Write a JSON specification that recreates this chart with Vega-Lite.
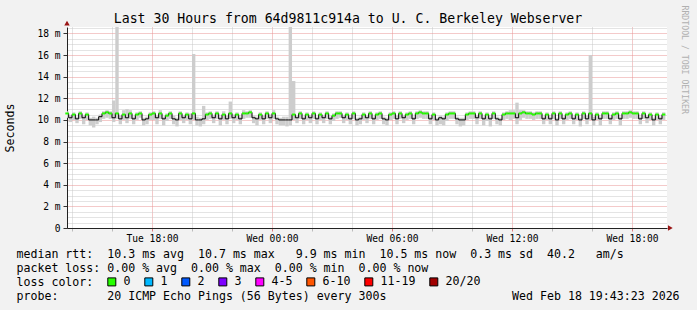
{
  "$schema": "https://vega.github.io/schema/vega-lite/v6.json",
  "width": 600,
  "height": 201,
  "autosize": {"type": "none"},
  "padding": {"left": 67, "top": 27, "right": 30, "bottom": 82},
  "background": "#f2f2f2",
  "title": {"text": "Last 30 Hours from 64d9811c914a to U. C. Berkeley Webserver", "font": "DejaVu Sans Mono", "fontSize": 13.2, "fontWeight": "normal", "color": "#000000", "anchor": "middle", "frame": "group", "dx": -19, "dy": 34, "offset": 3, "baseline": "alphabetic"},
  "data": {"values": [
    {"t":"2026-02-17T13:45Z","m":10.6,"lo":10.2,"hi":10.8,"loss":"0"},
    {"t":"2026-02-17T13:55Z","m":10.2,"lo":9.8,"hi":10.4,"loss":"0"},
    {"t":"2026-02-17T14:05Z","m":10.5,"lo":10.0,"hi":10.7,"loss":"0"},
    {"t":"2026-02-17T14:15Z","m":10.1,"lo":9.7,"hi":10.3,"loss":"0"},
    {"t":"2026-02-17T14:25Z","m":10.6,"lo":10.1,"hi":10.8,"loss":"0"},
    {"t":"2026-02-17T14:35Z","m":10.2,"lo":9.6,"hi":10.4,"loss":"0"},
    {"t":"2026-02-17T14:45Z","m":10.5,"lo":10.0,"hi":10.7,"loss":"0"},
    {"t":"2026-02-17T14:55Z","m":10.0,"lo":9.5,"hi":10.2,"loss":"0"},
    {"t":"2026-02-17T15:05Z","m":10.0,"lo":9.3,"hi":10.3,"loss":"0"},
    {"t":"2026-02-17T15:15Z","m":10.0,"lo":9.6,"hi":10.2,"loss":"0"},
    {"t":"2026-02-17T15:25Z","m":10.3,"lo":9.8,"hi":10.5,"loss":"0"},
    {"t":"2026-02-17T15:35Z","m":10.6,"lo":10.1,"hi":10.8,"loss":"0"},
    {"t":"2026-02-17T15:45Z","m":10.7,"lo":10.2,"hi":10.9,"loss":"0"},
    {"t":"2026-02-17T15:55Z","m":10.6,"lo":10.1,"hi":10.8,"loss":"0"},
    {"t":"2026-02-17T16:05Z","m":10.2,"lo":9.8,"hi":11.8,"loss":"0"},
    {"t":"2026-02-17T16:15Z","m":10.6,"lo":10.1,"hi":19.5,"loss":"0"},
    {"t":"2026-02-17T16:25Z","m":10.1,"lo":9.6,"hi":10.4,"loss":"0"},
    {"t":"2026-02-17T16:35Z","m":10.5,"lo":10.0,"hi":10.9,"loss":"0"},
    {"t":"2026-02-17T16:45Z","m":10.2,"lo":9.7,"hi":11.0,"loss":"0"},
    {"t":"2026-02-17T16:55Z","m":10.6,"lo":10.1,"hi":10.9,"loss":"0"},
    {"t":"2026-02-17T17:05Z","m":10.1,"lo":9.6,"hi":10.3,"loss":"0"},
    {"t":"2026-02-17T17:15Z","m":10.5,"lo":10.0,"hi":10.7,"loss":"0"},
    {"t":"2026-02-17T17:25Z","m":10.6,"lo":10.2,"hi":10.8,"loss":"0"},
    {"t":"2026-02-17T17:35Z","m":10.0,"lo":9.5,"hi":10.2,"loss":"0"},
    {"t":"2026-02-17T17:45Z","m":10.1,"lo":9.6,"hi":10.3,"loss":"0"},
    {"t":"2026-02-17T17:55Z","m":10.5,"lo":10.0,"hi":10.7,"loss":"0"},
    {"t":"2026-02-17T18:05Z","m":10.6,"lo":10.0,"hi":10.8,"loss":"0"},
    {"t":"2026-02-17T18:15Z","m":10.2,"lo":9.6,"hi":10.4,"loss":"0"},
    {"t":"2026-02-17T18:25Z","m":10.6,"lo":10.1,"hi":10.9,"loss":"0"},
    {"t":"2026-02-17T18:35Z","m":10.1,"lo":9.5,"hi":10.3,"loss":"0"},
    {"t":"2026-02-17T18:45Z","m":10.4,"lo":9.9,"hi":10.6,"loss":"0"},
    {"t":"2026-02-17T18:55Z","m":10.6,"lo":10.1,"hi":10.8,"loss":"0"},
    {"t":"2026-02-17T19:05Z","m":10.1,"lo":9.6,"hi":10.4,"loss":"0"},
    {"t":"2026-02-17T19:15Z","m":10.0,"lo":9.4,"hi":10.2,"loss":"0"},
    {"t":"2026-02-17T19:25Z","m":10.6,"lo":10.0,"hi":10.8,"loss":"0"},
    {"t":"2026-02-17T19:35Z","m":10.2,"lo":9.7,"hi":10.4,"loss":"0"},
    {"t":"2026-02-17T19:45Z","m":10.5,"lo":10.0,"hi":10.7,"loss":"0"},
    {"t":"2026-02-17T19:55Z","m":10.1,"lo":9.6,"hi":10.6,"loss":"0"},
    {"t":"2026-02-17T20:05Z","m":10.6,"lo":10.0,"hi":16.1,"loss":"0"},
    {"t":"2026-02-17T20:15Z","m":10.0,"lo":9.5,"hi":10.3,"loss":"0"},
    {"t":"2026-02-17T20:25Z","m":10.0,"lo":9.4,"hi":10.2,"loss":"0"},
    {"t":"2026-02-17T20:35Z","m":10.1,"lo":9.6,"hi":11.3,"loss":"0"},
    {"t":"2026-02-17T20:45Z","m":10.5,"lo":10.0,"hi":10.7,"loss":"0"},
    {"t":"2026-02-17T20:55Z","m":10.6,"lo":10.1,"hi":10.8,"loss":"0"},
    {"t":"2026-02-17T21:05Z","m":10.2,"lo":9.7,"hi":10.4,"loss":"0"},
    {"t":"2026-02-17T21:15Z","m":10.6,"lo":10.1,"hi":10.8,"loss":"0"},
    {"t":"2026-02-17T21:25Z","m":10.1,"lo":9.5,"hi":10.3,"loss":"0"},
    {"t":"2026-02-17T21:35Z","m":10.5,"lo":10.0,"hi":10.8,"loss":"0"},
    {"t":"2026-02-17T21:45Z","m":10.1,"lo":9.6,"hi":10.4,"loss":"0"},
    {"t":"2026-02-17T21:55Z","m":10.6,"lo":10.1,"hi":11.7,"loss":"0"},
    {"t":"2026-02-17T22:05Z","m":10.2,"lo":9.7,"hi":10.5,"loss":"0"},
    {"t":"2026-02-17T22:15Z","m":10.5,"lo":10.0,"hi":10.7,"loss":"0"},
    {"t":"2026-02-17T22:25Z","m":10.1,"lo":9.6,"hi":10.3,"loss":"0"},
    {"t":"2026-02-17T22:35Z","m":10.6,"lo":10.1,"hi":10.9,"loss":"0"},
    {"t":"2026-02-17T22:45Z","m":10.6,"lo":10.2,"hi":10.8,"loss":"0"},
    {"t":"2026-02-17T22:55Z","m":10.7,"lo":10.2,"hi":10.9,"loss":"0"},
    {"t":"2026-02-17T23:05Z","m":10.2,"lo":9.7,"hi":10.4,"loss":"0"},
    {"t":"2026-02-17T23:15Z","m":10.1,"lo":9.5,"hi":10.3,"loss":"0"},
    {"t":"2026-02-17T23:25Z","m":10.5,"lo":10.0,"hi":10.7,"loss":"0"},
    {"t":"2026-02-17T23:35Z","m":10.1,"lo":9.6,"hi":10.4,"loss":"0"},
    {"t":"2026-02-17T23:45Z","m":10.6,"lo":10.1,"hi":10.8,"loss":"0"},
    {"t":"2026-02-17T23:55Z","m":10.2,"lo":9.7,"hi":10.5,"loss":"0"},
    {"t":"2026-02-18T00:05Z","m":10.6,"lo":10.1,"hi":10.9,"loss":"0"},
    {"t":"2026-02-18T00:15Z","m":10.1,"lo":9.6,"hi":10.3,"loss":"0"},
    {"t":"2026-02-18T00:25Z","m":10.0,"lo":9.5,"hi":10.2,"loss":"0"},
    {"t":"2026-02-18T00:35Z","m":10.0,"lo":9.5,"hi":10.3,"loss":"0"},
    {"t":"2026-02-18T00:45Z","m":10.0,"lo":9.4,"hi":10.3,"loss":"0"},
    {"t":"2026-02-18T00:55Z","m":10.0,"lo":9.5,"hi":19.5,"loss":"0"},
    {"t":"2026-02-18T01:05Z","m":10.5,"lo":10.0,"hi":13.6,"loss":"0"},
    {"t":"2026-02-18T01:15Z","m":10.2,"lo":9.7,"hi":10.4,"loss":"0"},
    {"t":"2026-02-18T01:25Z","m":10.6,"lo":10.1,"hi":10.8,"loss":"0"},
    {"t":"2026-02-18T01:35Z","m":10.1,"lo":9.6,"hi":10.3,"loss":"0"},
    {"t":"2026-02-18T01:45Z","m":10.5,"lo":10.0,"hi":10.7,"loss":"0"},
    {"t":"2026-02-18T01:55Z","m":10.2,"lo":9.7,"hi":10.4,"loss":"0"},
    {"t":"2026-02-18T02:05Z","m":10.6,"lo":10.1,"hi":10.8,"loss":"0"},
    {"t":"2026-02-18T02:15Z","m":10.1,"lo":9.6,"hi":10.3,"loss":"0"},
    {"t":"2026-02-18T02:25Z","m":10.5,"lo":10.0,"hi":10.7,"loss":"0"},
    {"t":"2026-02-18T02:35Z","m":10.2,"lo":9.7,"hi":10.4,"loss":"0"},
    {"t":"2026-02-18T02:45Z","m":10.6,"lo":10.1,"hi":10.8,"loss":"0"},
    {"t":"2026-02-18T02:55Z","m":10.1,"lo":9.6,"hi":10.3,"loss":"0"},
    {"t":"2026-02-18T03:05Z","m":10.4,"lo":9.9,"hi":10.6,"loss":"0"},
    {"t":"2026-02-18T03:15Z","m":10.6,"lo":10.1,"hi":10.8,"loss":"0"},
    {"t":"2026-02-18T03:25Z","m":10.6,"lo":10.2,"hi":10.8,"loss":"0"},
    {"t":"2026-02-18T03:35Z","m":10.2,"lo":9.7,"hi":10.4,"loss":"0"},
    {"t":"2026-02-18T03:45Z","m":10.5,"lo":10.0,"hi":10.7,"loss":"0"},
    {"t":"2026-02-18T03:55Z","m":10.1,"lo":9.6,"hi":10.3,"loss":"0"},
    {"t":"2026-02-18T04:05Z","m":10.6,"lo":10.1,"hi":10.8,"loss":"0"},
    {"t":"2026-02-18T04:15Z","m":10.0,"lo":9.5,"hi":10.2,"loss":"0"},
    {"t":"2026-02-18T04:25Z","m":10.1,"lo":9.6,"hi":10.3,"loss":"0"},
    {"t":"2026-02-18T04:35Z","m":10.5,"lo":10.0,"hi":10.7,"loss":"0"},
    {"t":"2026-02-18T04:45Z","m":10.2,"lo":9.7,"hi":10.4,"loss":"0"},
    {"t":"2026-02-18T04:55Z","m":10.6,"lo":10.1,"hi":10.8,"loss":"0"},
    {"t":"2026-02-18T05:05Z","m":10.1,"lo":9.6,"hi":10.3,"loss":"0"},
    {"t":"2026-02-18T05:15Z","m":10.5,"lo":10.0,"hi":10.7,"loss":"0"},
    {"t":"2026-02-18T05:25Z","m":10.6,"lo":10.1,"hi":10.8,"loss":"0"},
    {"t":"2026-02-18T05:35Z","m":10.1,"lo":9.6,"hi":10.3,"loss":"0"},
    {"t":"2026-02-18T05:45Z","m":10.0,"lo":9.5,"hi":10.2,"loss":"0"},
    {"t":"2026-02-18T05:55Z","m":10.5,"lo":10.0,"hi":10.7,"loss":"0"},
    {"t":"2026-02-18T06:05Z","m":10.6,"lo":10.1,"hi":10.8,"loss":"0"},
    {"t":"2026-02-18T06:15Z","m":10.1,"lo":9.6,"hi":10.4,"loss":"0"},
    {"t":"2026-02-18T06:25Z","m":10.6,"lo":10.1,"hi":10.8,"loss":"0"},
    {"t":"2026-02-18T06:35Z","m":10.2,"lo":9.7,"hi":10.4,"loss":"0"},
    {"t":"2026-02-18T06:45Z","m":10.5,"lo":10.0,"hi":10.7,"loss":"0"},
    {"t":"2026-02-18T06:55Z","m":10.6,"lo":10.1,"hi":10.8,"loss":"0"},
    {"t":"2026-02-18T07:05Z","m":10.1,"lo":9.6,"hi":10.3,"loss":"0"},
    {"t":"2026-02-18T07:15Z","m":10.6,"lo":10.1,"hi":10.8,"loss":"0"},
    {"t":"2026-02-18T07:25Z","m":10.7,"lo":10.2,"hi":10.9,"loss":"0"},
    {"t":"2026-02-18T07:35Z","m":10.6,"lo":10.1,"hi":10.8,"loss":"0"},
    {"t":"2026-02-18T07:45Z","m":10.6,"lo":10.1,"hi":10.8,"loss":"0"},
    {"t":"2026-02-18T07:55Z","m":10.1,"lo":9.6,"hi":10.3,"loss":"0"},
    {"t":"2026-02-18T08:05Z","m":10.5,"lo":10.0,"hi":10.7,"loss":"0"},
    {"t":"2026-02-18T08:15Z","m":10.0,"lo":9.5,"hi":10.2,"loss":"0"},
    {"t":"2026-02-18T08:25Z","m":10.2,"lo":9.6,"hi":10.4,"loss":"0"},
    {"t":"2026-02-18T08:35Z","m":10.1,"lo":9.5,"hi":10.3,"loss":"0"},
    {"t":"2026-02-18T08:45Z","m":10.5,"lo":9.9,"hi":10.7,"loss":"0"},
    {"t":"2026-02-18T08:55Z","m":10.6,"lo":10.1,"hi":10.8,"loss":"0"},
    {"t":"2026-02-18T09:05Z","m":10.6,"lo":10.1,"hi":10.8,"loss":"0"},
    {"t":"2026-02-18T09:15Z","m":10.1,"lo":9.6,"hi":10.3,"loss":"0"},
    {"t":"2026-02-18T09:25Z","m":10.0,"lo":9.4,"hi":10.2,"loss":"0"},
    {"t":"2026-02-18T09:35Z","m":10.0,"lo":9.5,"hi":10.2,"loss":"0"},
    {"t":"2026-02-18T09:45Z","m":10.5,"lo":10.0,"hi":10.7,"loss":"0"},
    {"t":"2026-02-18T09:55Z","m":10.6,"lo":10.1,"hi":10.8,"loss":"0"},
    {"t":"2026-02-18T10:05Z","m":10.6,"lo":10.1,"hi":10.8,"loss":"0"},
    {"t":"2026-02-18T10:15Z","m":10.2,"lo":9.6,"hi":10.4,"loss":"0"},
    {"t":"2026-02-18T10:25Z","m":10.6,"lo":10.1,"hi":10.8,"loss":"0"},
    {"t":"2026-02-18T10:35Z","m":10.1,"lo":9.5,"hi":10.3,"loss":"0"},
    {"t":"2026-02-18T10:45Z","m":10.5,"lo":9.9,"hi":10.7,"loss":"0"},
    {"t":"2026-02-18T10:55Z","m":10.1,"lo":9.4,"hi":10.3,"loss":"0"},
    {"t":"2026-02-18T11:05Z","m":10.6,"lo":10.1,"hi":10.8,"loss":"0"},
    {"t":"2026-02-18T11:15Z","m":10.1,"lo":9.6,"hi":10.3,"loss":"0"},
    {"t":"2026-02-18T11:25Z","m":10.0,"lo":9.5,"hi":10.2,"loss":"0"},
    {"t":"2026-02-18T11:35Z","m":10.5,"lo":10.0,"hi":10.7,"loss":"0"},
    {"t":"2026-02-18T11:45Z","m":10.6,"lo":10.1,"hi":10.8,"loss":"0"},
    {"t":"2026-02-18T11:55Z","m":10.6,"lo":10.0,"hi":10.9,"loss":"0"},
    {"t":"2026-02-18T12:05Z","m":10.6,"lo":10.1,"hi":10.9,"loss":"0"},
    {"t":"2026-02-18T12:15Z","m":10.2,"lo":9.6,"hi":11.6,"loss":"0"},
    {"t":"2026-02-18T12:25Z","m":10.6,"lo":10.0,"hi":10.9,"loss":"0"},
    {"t":"2026-02-18T12:35Z","m":10.7,"lo":10.2,"hi":10.9,"loss":"0"},
    {"t":"2026-02-18T12:45Z","m":10.6,"lo":10.1,"hi":10.8,"loss":"0"},
    {"t":"2026-02-18T12:55Z","m":10.6,"lo":10.1,"hi":10.8,"loss":"0"},
    {"t":"2026-02-18T13:05Z","m":10.5,"lo":10.0,"hi":10.7,"loss":"0"},
    {"t":"2026-02-18T13:15Z","m":10.6,"lo":10.1,"hi":10.8,"loss":"0"},
    {"t":"2026-02-18T13:25Z","m":10.6,"lo":10.1,"hi":10.8,"loss":"0"},
    {"t":"2026-02-18T13:35Z","m":10.1,"lo":9.6,"hi":10.3,"loss":"0"},
    {"t":"2026-02-18T13:45Z","m":10.5,"lo":10.0,"hi":10.7,"loss":"0"},
    {"t":"2026-02-18T13:55Z","m":10.1,"lo":9.6,"hi":10.3,"loss":"0"},
    {"t":"2026-02-18T14:05Z","m":10.6,"lo":10.1,"hi":10.8,"loss":"0"},
    {"t":"2026-02-18T14:15Z","m":10.0,"lo":9.5,"hi":10.2,"loss":"0"},
    {"t":"2026-02-18T14:25Z","m":10.6,"lo":10.1,"hi":10.8,"loss":"0"},
    {"t":"2026-02-18T14:35Z","m":10.1,"lo":9.6,"hi":10.3,"loss":"0"},
    {"t":"2026-02-18T14:45Z","m":10.5,"lo":10.0,"hi":10.7,"loss":"0"},
    {"t":"2026-02-18T14:55Z","m":10.6,"lo":10.1,"hi":10.8,"loss":"0"},
    {"t":"2026-02-18T15:05Z","m":10.1,"lo":9.6,"hi":10.3,"loss":"0"},
    {"t":"2026-02-18T15:15Z","m":10.5,"lo":10.0,"hi":10.7,"loss":"0"},
    {"t":"2026-02-18T15:25Z","m":10.0,"lo":9.4,"hi":10.2,"loss":"0"},
    {"t":"2026-02-18T15:35Z","m":10.6,"lo":10.1,"hi":10.8,"loss":"0"},
    {"t":"2026-02-18T15:45Z","m":10.1,"lo":9.6,"hi":10.4,"loss":"0"},
    {"t":"2026-02-18T15:55Z","m":10.6,"lo":10.0,"hi":16.0,"loss":"0"},
    {"t":"2026-02-18T16:05Z","m":10.0,"lo":9.5,"hi":10.3,"loss":"0"},
    {"t":"2026-02-18T16:15Z","m":10.5,"lo":10.0,"hi":10.7,"loss":"0"},
    {"t":"2026-02-18T16:25Z","m":10.1,"lo":9.5,"hi":10.3,"loss":"0"},
    {"t":"2026-02-18T16:35Z","m":10.6,"lo":10.1,"hi":10.8,"loss":"0"},
    {"t":"2026-02-18T16:45Z","m":10.6,"lo":10.1,"hi":10.8,"loss":"0"},
    {"t":"2026-02-18T16:55Z","m":10.1,"lo":9.6,"hi":10.3,"loss":"0"},
    {"t":"2026-02-18T17:05Z","m":10.5,"lo":10.0,"hi":10.7,"loss":"0"},
    {"t":"2026-02-18T17:15Z","m":10.6,"lo":10.1,"hi":10.8,"loss":"0"},
    {"t":"2026-02-18T17:25Z","m":10.1,"lo":9.5,"hi":10.3,"loss":"0"},
    {"t":"2026-02-18T17:35Z","m":10.6,"lo":10.1,"hi":10.8,"loss":"0"},
    {"t":"2026-02-18T17:45Z","m":10.6,"lo":10.1,"hi":10.8,"loss":"0"},
    {"t":"2026-02-18T17:55Z","m":10.7,"lo":10.2,"hi":10.9,"loss":"0"},
    {"t":"2026-02-18T18:05Z","m":10.6,"lo":10.1,"hi":10.8,"loss":"0"},
    {"t":"2026-02-18T18:15Z","m":10.6,"lo":10.1,"hi":10.8,"loss":"0"},
    {"t":"2026-02-18T18:25Z","m":10.1,"lo":9.6,"hi":10.3,"loss":"0"},
    {"t":"2026-02-18T18:35Z","m":10.6,"lo":10.1,"hi":10.8,"loss":"0"},
    {"t":"2026-02-18T18:45Z","m":10.2,"lo":9.7,"hi":10.4,"loss":"0"},
    {"t":"2026-02-18T18:55Z","m":10.5,"lo":10.0,"hi":10.7,"loss":"0"},
    {"t":"2026-02-18T19:05Z","m":10.0,"lo":9.5,"hi":10.2,"loss":"0"},
    {"t":"2026-02-18T19:15Z","m":10.5,"lo":10.0,"hi":10.7,"loss":"0"},
    {"t":"2026-02-18T19:25Z","m":10.1,"lo":9.6,"hi":10.3,"loss":"0"},
    {"t":"2026-02-18T19:35Z","m":10.5,"lo":10.0,"hi":10.7,"loss":"0"}
  ]},
  "layer": [
    {
      "mark": {"type": "rule", "color": "#cdcdcd", "strokeWidth": 3.4, "clip": true},
      "encoding": {
        "x": {
          "field": "t", "type": "temporal",
          "scale": {"type": "utc", "domain": [1771335900000, 1771443900000], "nice": false},
          "axis": {
            "title": ["median rtt:\u00a0\u00a010.3 ms avg\u00a0\u00a010.7 ms max\u00a0\u00a0\u00a09.9 ms min\u00a0\u00a010.5 ms now\u00a0\u00a00.3 ms sd\u00a0\u00a040.2\u00a0\u00a0\u00a0am/s", "packet loss: 0.00 % avg\u00a0\u00a00.00 % max\u00a0\u00a00.00 % min\u00a0\u00a00.00 % now", "loss color:", "probe:\u00a0\u00a0\u00a0\u00a0\u00a0\u00a0\u00a020 ICMP Echo Pings (56 Bytes) every 300s\u00a0\u00a0\u00a0\u00a0\u00a0\u00a0\u00a0\u00a0\u00a0\u00a0\u00a0\u00a0\u00a0\u00a0\u00a0\u00a0\u00a0\u00a0Wed Feb 18 19:43:23 2026"],
            "titleFont": "DejaVu Sans Mono", "titleFontSize": 11.6, "titleFontWeight": "normal", "titleColor": "#000000",
            "titleAlign": "left", "titleAnchor": "start", "titleBaseline": "alphabetic", "titleX": -51, "titleY": 29.5, "titleLineHeight": 14,
            "values": [1771336800000,1771340400000,1771344000000,1771347600000,1771351200000,1771354800000,1771358400000,1771362000000,1771365600000,1771369200000,1771372800000,1771376400000,1771380000000,1771383600000,1771387200000,1771390800000,1771394400000,1771398000000,1771401600000,1771405200000,1771408800000,1771412400000,1771416000000,1771419600000,1771423200000,1771426800000,1771430400000,1771434000000,1771437600000,1771441200000],
            "labelExpr": "utchours(datum.value) % 6 === 0 ? utcFormat(datum.value, '%a %H:%M') : ''",
            "labelOverlap": false, "labelFlush": false,
            "labelFont": "DejaVu Sans Mono", "labelFontSize": 9.6, "labelColor": "#000000", "labelPadding": 2,
            "grid": true,
            "gridColor": {"condition": {"test": "utchours(datum.value) % 3 === 0", "value": "#e89494"}, "value": "#c8c8c8"},
            "gridDash": [1, 1],
            "tickSize": 3,
            "tickColor": {"condition": {"test": "utchours(datum.value) % 3 === 0", "value": "#e07878"}, "value": "#bbbbbb"},
            "domainColor": "#222222"
          }
        },
        "y": {
          "field": "lo", "type": "quantitative",
          "scale": {"domain": [0, 18.6], "nice": false, "zero": false},
          "axis": {
            "title": "Seconds", "titleFont": "DejaVu Sans Mono", "titleFontSize": 11.6, "titleFontWeight": "normal", "titleColor": "#000000",
            "titleX": -57, "titleY": 100.5, "titleAngle": -90, "titleAlign": "center", "titleBaseline": "middle",
            "values": [0,0.5,1,1.5,2,2.5,3,3.5,4,4.5,5,5.5,6,6.5,7,7.5,8,8.5,9,9.5,10,10.5,11,11.5,12,12.5,13,13.5,14,14.5,15,15.5,16,16.5,17,17.5,18,18.5],
            "labelExpr": "datum.value % 2 === 0 ? (datum.value === 0 ? '0\u00a0\u00a0' : datum.value + ' m') : ''",
            "labelOverlap": false, "labelFont": "DejaVu Sans Mono", "labelFontSize": 9.6, "labelColor": "#000000", "labelPadding": 3,
            "grid": true,
            "gridColor": {"condition": {"test": "datum.value % 2 === 0", "value": "#e89494"}, "value": "#c8c8c8"},
            "gridDash": [1, 1],
            "tickSize": 4,
            "tickColor": "#333333",
            "tickOpacity": {"condition": {"test": "datum.value % 2 === 0", "value": 1}, "value": 0},
            "domainColor": "#222222"
          }
        },
        "y2": {"field": "hi"}
      }
    },
    {
      "mark": {"type": "line", "interpolate": "step", "color": "#000000", "strokeWidth": 1},
      "encoding": {
        "x": {"field": "t", "type": "temporal", "scale": {"type": "utc", "domain": [1771335900000, 1771443900000], "nice": false}},
        "y": {
          "field": "m", "type": "quantitative",
          "scale": {"domain": [0, 18.6], "nice": false, "zero": false},
          "axis": {"orient": "right", "title": "RRDTOOL / TOBI OETIKER", "labels": false, "ticks": false, "domain": false, "grid": false,
            "titleAngle": 90, "titleX": 16, "titleY": -22, "titleAlign": "left", "titleBaseline": "middle",
            "titleFont": "DejaVu Sans Mono", "titleFontSize": 8.2, "titleFontWeight": "normal", "titleColor": "#b0b0b0"}
        }
      }
    },
    {
      "transform": [{"filter": "datum.m >= 10.35"}],
      "mark": {"type": "tick", "orient": "horizontal", "thickness": 2, "size": 3.4, "opacity": 1},
      "encoding": {
        "x": {"field": "t", "type": "temporal", "scale": {"type": "utc", "domain": [1771335900000, 1771443900000], "nice": false}},
        "y": {"field": "m", "type": "quantitative", "scale": {"domain": [0, 18.6], "nice": false, "zero": false}, "axis": null},
        "color": {
          "field": "loss", "type": "nominal",
          "scale": {"domain": ["0", "1", "2", "3", "4-5", "6-10", "11-19", "20/20"], "range": ["#26ff00", "#00b8ff", "#0059ff", "#7e00ff", "#ff00ff", "#ff5500", "#ff0000", "#a10000"]},
          "legend": {"orient": "none", "legendX": 39, "legendY": 249, "direction": "horizontal", "title": null,
            "symbolType": "square", "symbolSize": 64, "symbolStrokeColor": "#000000", "symbolStrokeWidth": 1, "symbolOpacity": 1,
            "labelFont": "DejaVu Sans Mono", "labelFontSize": 11.6, "labelColor": "#000000", "labelOffset": 6, "columnPadding": 11, "padding": 0}
        }
      }
    },
    {
      "data": {"values": [{}]},
      "mark": {"type": "point", "shape": "triangle-up", "filled": true, "color": "#9a1515", "size": 30, "opacity": 1},
      "encoding": {
        "x": {"datum": 1771335900000, "type": "temporal", "scale": {"type": "utc", "domain": [1771335900000, 1771443900000], "nice": false}},
        "y": {"datum": 18.95, "type": "quantitative", "scale": {"domain": [0, 18.6], "nice": false, "zero": false}, "axis": null}
      }
    },
    {
      "data": {"values": [{}]},
      "mark": {"type": "point", "shape": "triangle-right", "filled": true, "color": "#9a1515", "size": 30, "opacity": 1},
      "encoding": {
        "x": {"datum": 1771444500000, "type": "temporal", "scale": {"type": "utc", "domain": [1771335900000, 1771443900000], "nice": false}},
        "y": {"datum": 0, "type": "quantitative", "scale": {"domain": [0, 18.6], "nice": false, "zero": false}, "axis": null}
      }
    }
  ],
  "resolve": {"axis": {"y": "independent"}},
  "config": {
    "view": {"fill": "#ffffff", "stroke": null}
  }
}
